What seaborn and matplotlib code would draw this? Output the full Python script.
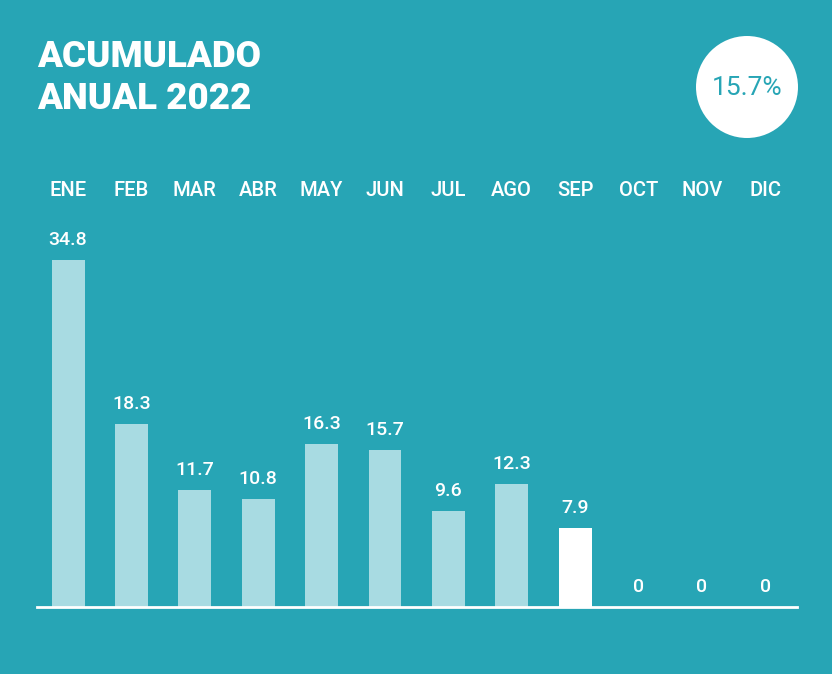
import pandas as pd
import seaborn as sns
import matplotlib

matplotlib.use("Agg")
import matplotlib.pyplot as plt
from matplotlib.patches import Circle
from matplotlib.transforms import blended_transform_factory


BG = "#27A5B5"
BAR_LIGHT = "#A8DBE2"
WHITE = "#FFFFFF"

months = ["ENE", "FEB", "MAR", "ABR", "MAY", "JUN", "JUL", "AGO", "SEP", "OCT", "NOV", "DIC"]
values = [34.8, 18.3, 11.7, 10.8, 16.3, 15.7, 9.6, 12.3, 7.9, 0, 0, 0]
value_labels = ["34.8", "18.3", "11.7", "10.8", "16.3", "15.7", "9.6", "12.3", "7.9", "0", "0", "0"]
current_month = "SEP"
title_lines = ["ACUMULADO", "ANUAL 2022"]
badge_text = "15.7%"


def main():
    sns.set_style("white")
    plt.rcParams["font.family"] = ["Roboto", "DejaVu Sans"]

    df = pd.DataFrame({"month": months, "value": values})
    colors = [WHITE if m == current_month else BAR_LIGHT for m in months]

    fig = plt.figure(figsize=(8.32, 6.74), dpi=100, facecolor=BG)
    ax = fig.add_axes([37 / 832, 67 / 674, 760 / 832, 399 / 674])
    ax.set_facecolor(BG)

    sns.barplot(data=df, x="month", y="value", hue="month", palette=colors,
                legend=False, width=0.52, saturation=1, linewidth=0, ax=ax)

    ax.set_xlim(-0.49, 11.5)
    ax.set_ylim(0, 40)
    for side in ["top", "right", "left"]:
        ax.spines[side].set_visible(False)
    ax.spines["bottom"].set_color(WHITE)
    ax.spines["bottom"].set_linewidth(2)
    ax.set_xticks([])
    ax.set_yticks([])
    ax.set_xlabel("")
    ax.set_ylabel("")

    # value labels above bars
    for i, (v, lab) in enumerate(zip(values, value_labels)):
        ax.annotate(lab, (i, v), xytext=(0, 8), textcoords="offset points",
                    ha="center", va="bottom", color=WHITE, fontsize=14,
                    fontweight="medium")

    # month names along the top
    trans = blended_transform_factory(ax.transData, fig.transFigure)
    for i, m in enumerate(months):
        ax.text(i, 1 - 190 / 674, m, transform=trans, ha="center", va="center",
                color=WHITE, fontsize=14.5, fontweight="medium", clip_on=False)

    # title
    fig.text(37 / 832, 1 - 57 / 674, title_lines[0], color=WHITE, fontsize=26.5,
             fontweight="black", ha="left", va="center")
    fig.text(37 / 832, 1 - 99 / 674, title_lines[1], color=WHITE, fontsize=26.5,
             fontweight="black", ha="left", va="center")

    # badge circle
    circ = Circle((7.47, 6.74 - 0.87), 0.51, transform=fig.dpi_scale_trans,
                  facecolor=WHITE, edgecolor="none")
    fig.patches.append(circ)
    fig.text(747 / 832, 1 - 88 / 674, badge_text, color=BG, fontsize=19,
             ha="center", va="center")

    fig.savefig("out.png", dpi=100, facecolor=BG)
    plt.close(fig)


if __name__ == "__main__":
    main()
